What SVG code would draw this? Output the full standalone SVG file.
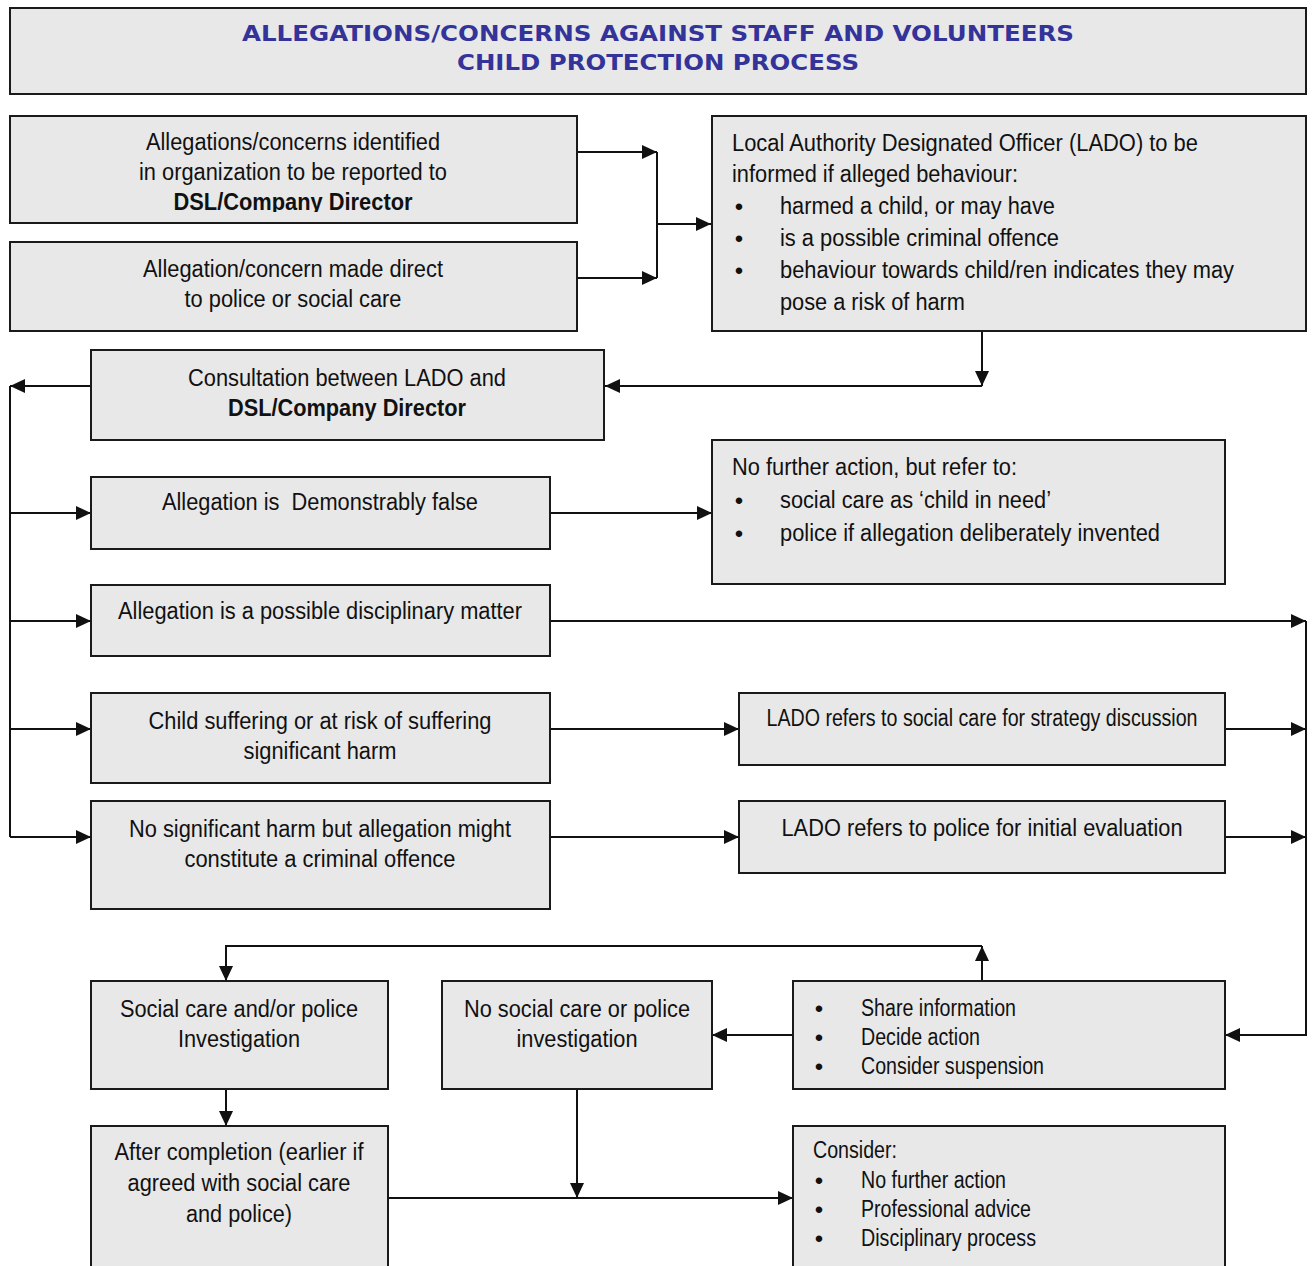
<svg xmlns="http://www.w3.org/2000/svg" width="1312" height="1266" viewBox="0 0 1312 1266">
<style>
.box{fill:#e8e8e8;stroke:#1a1a1a;stroke-width:2}
.t{font-family:"Liberation Sans",Arial,sans-serif;font-size:23px;fill:#111}
.c{text-anchor:middle}
.b{font-weight:bold}
.bl{font-family:"Liberation Sans",Arial,sans-serif;font-size:24px;fill:#111;text-anchor:middle}
.title{font-family:"DejaVu Sans",Verdana,sans-serif;font-weight:bold;font-size:22px;fill:#333399;text-anchor:middle}
.ln{fill:none;stroke:#111;stroke-width:2}
</style>
<defs>
<marker id="ah" markerUnits="userSpaceOnUse" markerWidth="15" markerHeight="14" refX="15" refY="7" orient="auto">
<path d="M0,0 L15,7 L0,14 z" fill="#111"/>
</marker>
<clipPath id="clipA"><rect x="10" y="116" width="567" height="96"/></clipPath>
</defs>

<g id="title">
<rect class="box" x="10" y="8" width="1296" height="86"/>
<text class="title" x="658" y="41" textLength="832" lengthAdjust="spacingAndGlyphs">ALLEGATIONS/CONCERNS AGAINST STAFF AND VOLUNTEERS</text>
<text class="title" x="658" y="70" textLength="402" lengthAdjust="spacingAndGlyphs">CHILD PROTECTION PROCESS</text>
</g>

<g id="connectors">
<path class="ln" d="M577,152 H657" marker-end="url(#ah)"/>
<path class="ln" d="M577,278 H657" marker-end="url(#ah)"/>
<path class="ln" d="M657,152 V278"/>
<path class="ln" d="M657,224 H711" marker-end="url(#ah)"/>
<path class="ln" d="M982,331 V386" marker-end="url(#ah)"/>
<path class="ln" d="M982,386 H605" marker-end="url(#ah)"/>
<path class="ln" d="M91,386 H10" marker-end="url(#ah)"/>
<path class="ln" d="M10,386 V837"/>
<path class="ln" d="M10,513 H91" marker-end="url(#ah)"/>
<path class="ln" d="M10,621 H91" marker-end="url(#ah)"/>
<path class="ln" d="M10,729 H91" marker-end="url(#ah)"/>
<path class="ln" d="M10,837 H91" marker-end="url(#ah)"/>
<path class="ln" d="M550,513 H712" marker-end="url(#ah)"/>
<path class="ln" d="M550,621 H1306" marker-end="url(#ah)"/>
<path class="ln" d="M550,729 H739" marker-end="url(#ah)"/>
<path class="ln" d="M550,837 H739" marker-end="url(#ah)"/>
<path class="ln" d="M1225,729 H1306" marker-end="url(#ah)"/>
<path class="ln" d="M1225,837 H1306" marker-end="url(#ah)"/>
<path class="ln" d="M1306,621 V1035 H1225" marker-end="url(#ah)"/>
<path class="ln" d="M982,981 V946" marker-end="url(#ah)"/>
<path class="ln" d="M982,946 H226 V981" marker-end="url(#ah)"/>
<path class="ln" d="M793,1035 H712" marker-end="url(#ah)"/>
<path class="ln" d="M226,1089 V1126" marker-end="url(#ah)"/>
<path class="ln" d="M388,1198 H793" marker-end="url(#ah)"/>
<path class="ln" d="M577,1089 V1198" marker-end="url(#ah)"/>
</g>

<g id="reportInOrg">
<rect class="box" x="10" y="116" width="567" height="107"/>
<text class="t c" x="293" y="150" textLength="294" lengthAdjust="spacingAndGlyphs">Allegations/concerns identified</text>
<text class="t c" x="293" y="180" textLength="308" lengthAdjust="spacingAndGlyphs">in organization to be reported to</text>
<text class="t c b" x="293" y="210" textLength="239" lengthAdjust="spacingAndGlyphs" clip-path="url(#clipA)">DSL/Company Director</text>
</g>

<g id="directReport">
<rect class="box" x="10" y="242" width="567" height="89"/>
<text class="t c" x="293" y="277" textLength="300" lengthAdjust="spacingAndGlyphs">Allegation/concern made direct</text>
<text class="t c" x="293" y="307" textLength="217" lengthAdjust="spacingAndGlyphs">to police or social care</text>
</g>

<g id="lado">
<rect class="box" x="712" y="116" width="594" height="215"/>
<text class="t" x="732" y="151" textLength="466" lengthAdjust="spacingAndGlyphs">Local Authority Designated Officer (LADO) to be</text>
<text class="t" x="732" y="182" textLength="286" lengthAdjust="spacingAndGlyphs">informed if alleged behaviour:</text>
<text class="bl" x="739" y="215">•</text>
<text class="t" x="780" y="214" textLength="275" lengthAdjust="spacingAndGlyphs">harmed a child, or may have</text>
<text class="bl" x="739" y="247">•</text>
<text class="t" x="780" y="246" textLength="279" lengthAdjust="spacingAndGlyphs">is a possible criminal offence</text>
<text class="bl" x="739" y="279">•</text>
<text class="t" x="780" y="278" textLength="454" lengthAdjust="spacingAndGlyphs">behaviour towards child/ren indicates they may</text>
<text class="t" x="780" y="310" textLength="185" lengthAdjust="spacingAndGlyphs">pose a risk of harm</text>
</g>

<g id="consultation">
<rect class="box" x="91" y="350" width="513" height="90"/>
<text class="t c" x="347" y="386" textLength="318" lengthAdjust="spacingAndGlyphs">Consultation between LADO and</text>
<text class="t c b" x="347" y="416" textLength="238" lengthAdjust="spacingAndGlyphs">DSL/Company Director</text>
</g>

<g id="demonstrablyFalse">
<rect class="box" x="91" y="477" width="459" height="72"/>
<text class="t c" x="320" y="510" textLength="316" lengthAdjust="spacingAndGlyphs" xml:space="preserve">Allegation is  Demonstrably false</text>
</g>

<g id="noFurtherAction">
<rect class="box" x="712" y="440" width="513" height="144"/>
<text class="t" x="732" y="475" textLength="285" lengthAdjust="spacingAndGlyphs">No further action, but refer to:</text>
<text class="bl" x="739" y="509">•</text>
<text class="t" x="780" y="508" textLength="271" lengthAdjust="spacingAndGlyphs">social care as ‘child in need’</text>
<text class="bl" x="739" y="542">•</text>
<text class="t" x="780" y="541" textLength="380" lengthAdjust="spacingAndGlyphs">police if allegation deliberately invented</text>
</g>

<g id="disciplinary">
<rect class="box" x="91" y="585" width="459" height="71"/>
<text class="t c" x="320" y="619" textLength="404" lengthAdjust="spacingAndGlyphs">Allegation is a possible disciplinary matter</text>
</g>

<g id="childSuffering">
<rect class="box" x="91" y="693" width="459" height="90"/>
<text class="t c" x="320" y="729" textLength="343" lengthAdjust="spacingAndGlyphs">Child suffering or at risk of suffering</text>
<text class="t c" x="320" y="759" textLength="153" lengthAdjust="spacingAndGlyphs">significant harm</text>
</g>

<g id="criminalOffence">
<rect class="box" x="91" y="801" width="459" height="108"/>
<text class="t c" x="320" y="837" textLength="382" lengthAdjust="spacingAndGlyphs">No significant harm but allegation might</text>
<text class="t c" x="320" y="867" textLength="271" lengthAdjust="spacingAndGlyphs">constitute a criminal offence</text>
</g>

<g id="ladoSocialCare">
<rect class="box" x="739" y="693" width="486" height="72"/>
<text class="t c" x="982" y="726" textLength="431" lengthAdjust="spacingAndGlyphs">LADO refers to social care for strategy discussion</text>
</g>

<g id="ladoPolice">
<rect class="box" x="739" y="801" width="486" height="72"/>
<text class="t c" x="982" y="836" textLength="401" lengthAdjust="spacingAndGlyphs">LADO refers to police for initial evaluation</text>
</g>

<g id="shareInfo">
<rect class="box" x="793" y="981" width="432" height="108"/>
<text class="bl" x="819" y="1017">•</text>
<text class="t" x="861" y="1016" textLength="155" lengthAdjust="spacingAndGlyphs">Share information</text>
<text class="bl" x="819" y="1046">•</text>
<text class="t" x="861" y="1045" textLength="119" lengthAdjust="spacingAndGlyphs">Decide action</text>
<text class="bl" x="819" y="1075">•</text>
<text class="t" x="861" y="1074" textLength="183" lengthAdjust="spacingAndGlyphs">Consider suspension</text>
</g>

<g id="investigation">
<rect class="box" x="91" y="981" width="297" height="108"/>
<text class="t c" x="239" y="1017" textLength="238" lengthAdjust="spacingAndGlyphs">Social care and/or police</text>
<text class="t c" x="239" y="1047" textLength="122" lengthAdjust="spacingAndGlyphs">Investigation</text>
</g>

<g id="noInvestigation">
<rect class="box" x="442" y="981" width="270" height="108"/>
<text class="t c" x="577" y="1017" textLength="226" lengthAdjust="spacingAndGlyphs">No social care or police</text>
<text class="t c" x="577" y="1047" textLength="121" lengthAdjust="spacingAndGlyphs">investigation</text>
</g>

<g id="afterCompletion">
<rect class="box" x="91" y="1126" width="297" height="160"/>
<text class="t c" x="239" y="1160" textLength="249" lengthAdjust="spacingAndGlyphs">After completion (earlier if</text>
<text class="t c" x="239" y="1191" textLength="223" lengthAdjust="spacingAndGlyphs">agreed with social care</text>
<text class="t c" x="239" y="1222" textLength="106" lengthAdjust="spacingAndGlyphs">and police)</text>
</g>

<g id="consider">
<rect class="box" x="793" y="1126" width="432" height="160"/>
<text class="t" x="813" y="1158" textLength="84" lengthAdjust="spacingAndGlyphs">Consider:</text>
<text class="bl" x="819" y="1189">•</text>
<text class="t" x="861" y="1188" textLength="145" lengthAdjust="spacingAndGlyphs">No further action</text>
<text class="bl" x="819" y="1218">•</text>
<text class="t" x="861" y="1217" textLength="170" lengthAdjust="spacingAndGlyphs">Professional advice</text>
<text class="bl" x="819" y="1247">•</text>
<text class="t" x="861" y="1246" textLength="175" lengthAdjust="spacingAndGlyphs">Disciplinary process</text>
</g>
</svg>
